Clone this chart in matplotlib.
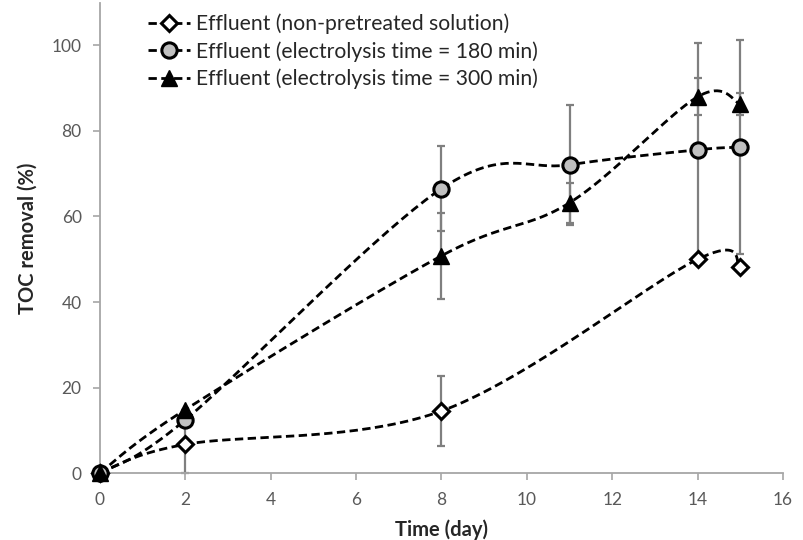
import numpy as np
import matplotlib
matplotlib.use("Agg")
import matplotlib.pyplot as plt

# Data
days = [0, 2, 8, 11, 14, 15]

non_pre_days = [0, 2, 8, 14, 15]
non_pre = [0, 6.7, 14.5, 50.0, 48.2]
non_pre_err = [0, 6.7, 8.2, 0, 0]

e180 = [0, 12.4, 66.5, 72.1, 75.6, 76.2]
e180_err = [0, 0, 10.0, 14.0, 25.0, 25.0]

e300 = [0, 14.8, 50.8, 63.2, 88.0, 86.3]
e300_err = [0, 0, 10.0, 4.7, 4.3, 2.5]

labels = [
    "Effluent (non-pretreated solution)",
    "Effluent (electrolysis time = 180 min)",
    "Effluent (electrolysis time = 300 min)",
]


def smooth_curve(x, y, n=40):
    # Catmull-Rom style Bezier smoothing, like a spreadsheet "smoothed line"
    pts = np.column_stack([x, y]).astype(float)
    ext = np.vstack([pts[0], pts, pts[-1]])
    t = np.linspace(0, 1, n)[:, None]
    out = []
    for i in range(1, len(ext) - 2):
        p0, p1, p2, p3 = ext[i - 1], ext[i], ext[i + 1], ext[i + 2]
        b1 = p1 + (p2 - p0) / 6
        b2 = p2 - (p3 - p1) / 6
        seg = ((1 - t) ** 3) * p1 + 3 * ((1 - t) ** 2) * t * b1 \
            + 3 * (1 - t) * t ** 2 * b2 + t ** 3 * p2
        out.append(seg)
    out = np.vstack(out)
    return out[:, 0], out[:, 1]


plt.rcParams["font.family"] = ["Lato", "DejaVu Sans"]

fig = plt.figure(figsize=(8.04, 5.40), dpi=100)
ax = fig.add_axes([0.124, 0.124, 0.850, 0.871])

err_color = "#7f7f7f"
series = [
    (non_pre_days, non_pre, non_pre_err, dict(marker="D", markersize=8.5, markerfacecolor="white",
                                              markeredgecolor="black", markeredgewidth=2.2)),
    (days, e180, e180_err, dict(marker="o", markersize=11, markerfacecolor="#c0c0c0",
                                markeredgecolor="black", markeredgewidth=2.2)),
    (days, e300, e300_err, dict(marker="^", markersize=11, markerfacecolor="black",
                                markeredgecolor="black", markeredgewidth=1)),
]

for x, y, err, style in series:
    ax.errorbar(x, y, yerr=err, fmt="none", ecolor=err_color, elinewidth=1.6,
                capsize=3, capthick=1.6, zorder=2, clip_on=False)

handles = []
for (x, y, err, style), lab in zip(series, labels):
    sx, sy = smooth_curve(x, y)
    ax.plot(sx, sy, color="black", linestyle=(0, (3, 1.6)), linewidth=2, zorder=3)
    ax.plot(x, y, linestyle="none", zorder=4, clip_on=False, **style)
    h, = ax.plot([], [], color="black", linestyle=(0, (3, 1.6)), linewidth=2, label=lab, **style)
    handles.append(h)

ax.set_xlim(0, 16)
ax.set_ylim(0, 110)
ax.set_xticks(range(0, 17, 2))
ax.set_yticks(range(0, 101, 20))

for side in ["top", "right"]:
    ax.spines[side].set_visible(False)
for side in ["left", "bottom"]:
    ax.spines[side].set_color("#a6a6a6")
    ax.spines[side].set_linewidth(1.3)

ax.tick_params(axis="both", colors="#a6a6a6", labelcolor="#595959", labelsize=12.5,
               length=5, width=1.2, direction="out")
ax.tick_params(axis="y", pad=8)
ax.tick_params(axis="x", pad=9)

ax.set_xlabel("Time (day)", fontsize=14.5, fontweight="bold", color="#262626", labelpad=8)
ax.set_ylabel("TOC removal (%)", fontsize=14.5, fontweight="bold", color="#262626", labelpad=10)

leg = ax.legend(handles=handles, loc="upper left", bbox_to_anchor=(0.173, 0.990),
                bbox_transform=fig.transFigure, frameon=False, fontsize=15.2,
                handlelength=2.0, handletextpad=0.3, labelspacing=0.32, borderaxespad=0)
for t in leg.get_texts():
    t.set_color("#262626")

fig.savefig("out.png", dpi=100)
